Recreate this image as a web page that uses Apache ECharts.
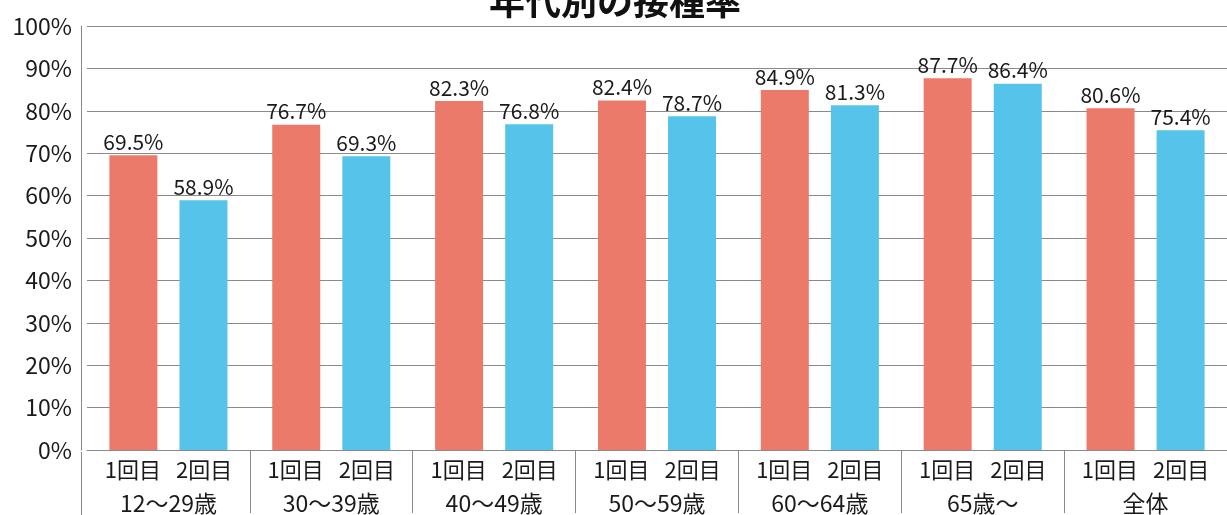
<!DOCTYPE html>
<html>
<head>
<meta charset="utf-8">
<script src="https://cdn.jsdelivr.net/npm/echarts@6/dist/echarts.min.js"></script>
<style>
html, body { margin: 0; padding: 0; background: #fff; }
#chart { width: 1227px; height: 515px; }
</style>
</head>
<body>
<div id="chart"></div>
<script>
var groups = ['12～29歳', '30～39歳', '40～49歳', '50～59歳', '60～64歳', '65歳～', '全体'];
var dose1 = [69.5, 76.7, 82.3, 82.4, 84.9, 87.7, 80.6];
var dose2 = [58.9, 69.3, 76.8, 78.7, 81.3, 86.4, 75.4];
var doseNames = ['1回目', '2回目'];

var FONT = 'Noto Sans CJK JP';
var chart = echarts.init(document.getElementById('chart'));

function barSeries(name, data, color) {
    return {
        name: name,
        type: 'bar',
        data: data,
        barWidth: 48,
        barGap: '46%',
        itemStyle: { color: color },
        label: {
            show: true,
            position: 'top',
            distance: 3,
            formatter: '{c}%',
            color: '#1a1a1a',
            fontFamily: FONT,
            fontSize: 21
        }
    };
}

chart.setOption({
    animation: false,
    title: {
        text: '年代別の接種率',
        left: 484,
        top: -22,
        textStyle: { fontFamily: FONT, fontWeight: 'bold', fontSize: 36, color: '#111' }
    },
    grid: { left: 87, right: -2, top: 26, bottom: 63 },
    xAxis: {
        type: 'category',
        data: groups,
        axisLine: { lineStyle: { color: '#8a8a8a', width: 1 } },
        axisTick: {
            show: true,
            length: 63,
            interval: function (i) { return i !== 0; },
            lineStyle: { color: '#8a8a8a' }
        },
        axisLabel: {
            interval: 0,
            margin: 4,
            formatter: function (v) {
                return '{a|' + doseNames[0] + '}{s|}{a|' + doseNames[1] + '}\n{b|' + v + '}';
            },
            rich: {
                a: { fontFamily: FONT, fontSize: 22, color: '#1a1a1a', lineHeight: 32 },
                s: { width: 15 },
                b: { fontFamily: FONT, fontSize: 23, color: '#1a1a1a', lineHeight: 35 }
            }
        }
    },
    yAxis: {
        type: 'value',
        min: 0,
        max: 100,
        interval: 10,
        offset: 6,
        axisLine: { show: true, lineStyle: { color: '#8a8a8a' } },
        axisTick: { show: false },
        axisLabel: {
            formatter: '{value}%',
            margin: 9,
            color: '#1a1a1a',
            fontFamily: FONT,
            fontSize: 23
        },
        splitLine: { lineStyle: { color: '#8a8a8a', width: 1 } }
    },
    graphic: [{
        type: 'line',
        shape: { x1: 81.5, y1: 452, x2: 81.5, y2: 515 },
        style: { stroke: '#8a8a8a', lineWidth: 1 }
    }],
    series: [
        barSeries(doseNames[0], dose1, '#EC7A6B'),
        barSeries(doseNames[1], dose2, '#56C3EA')
    ]
});
</script>
</body>
</html>
